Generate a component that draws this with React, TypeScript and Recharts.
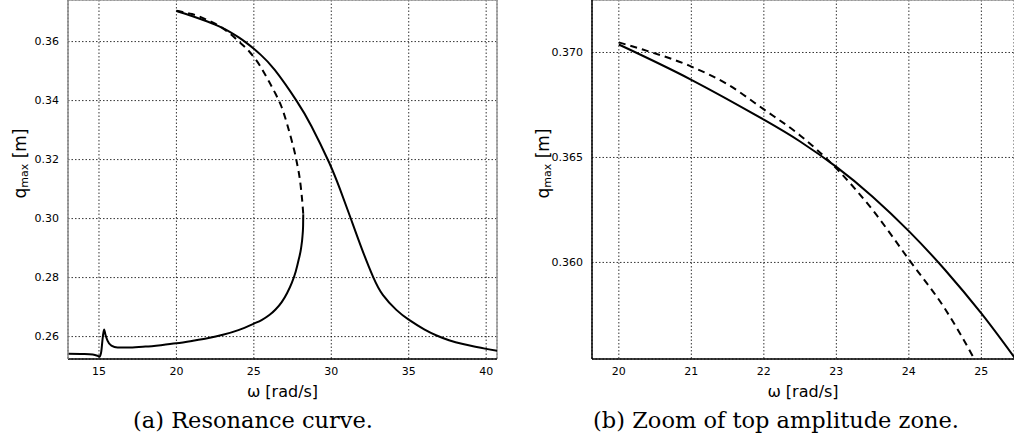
import React from 'react';
import { LineChart, Line, XAxis, YAxis, CartesianGrid, ReferenceLine } from 'recharts';

// stable lower branch (jump-up side)
const lowerOmega = [13.0, 14.0, 14.6, 14.9, 15.05, 15.15, 15.25, 15.33, 15.42, 15.55, 15.8, 16.2, 17.0, 18.0, 19.0, 20.0, 21.0, 22.0, 23.0, 24.0, 25.0, 25.5, 26.0, 26.4, 26.8, 27.15, 27.45, 27.7, 27.9, 28.05, 28.14, 28.18, 28.19];
const lowerQ = [0.2542, 0.2541, 0.2539, 0.2535, 0.2532, 0.255, 0.26, 0.2624, 0.2606, 0.2586, 0.2569, 0.2563, 0.2563, 0.2566, 0.2571, 0.2577, 0.2585, 0.2594, 0.2606, 0.2622, 0.2644, 0.2656, 0.2673, 0.2692, 0.2717, 0.2748, 0.2782, 0.282, 0.2862, 0.29, 0.294, 0.2975, 0.3015];

// stable upper branch
const upperOmega = [20.0, 21.0, 22.0, 22.5, 23.0, 23.5, 24.0, 24.5, 25.0, 25.45, 26.35, 27.75, 28.72, 29.86, 30.55, 31.2, 31.95, 32.7, 33.34, 34.2, 35.0, 36.0, 36.8, 37.6, 38.5, 39.3, 40.0, 40.76];
const upperQ = [0.37038, 0.3687, 0.3668, 0.36576, 0.36455, 0.36313, 0.36149, 0.35964, 0.35757, 0.3555, 0.3504, 0.34, 0.33132, 0.31902, 0.31014, 0.30088, 0.29007, 0.28024, 0.27403, 0.26905, 0.26573, 0.26244, 0.26037, 0.25878, 0.25746, 0.25654, 0.25583, 0.25512];

// unstable branch (dashed)
const unstableOmega = [20.0, 20.33, 21.0, 21.5, 22.0, 22.5, 23.0, 23.5, 24.0, 24.5, 24.88, 25.4, 25.92, 26.4, 26.78, 27.15, 27.43, 27.75, 28.03, 28.14, 28.19];
const unstableQ = [0.37048, 0.37014, 0.36933, 0.36848, 0.36729, 0.36605, 0.36448, 0.3625, 0.36014, 0.35778, 0.35554, 0.3518, 0.347, 0.3423, 0.338, 0.332, 0.3267, 0.3197, 0.3108, 0.305, 0.3015];

const fullOmegaTicks = [15, 20, 25, 30, 35, 40];
const fullQTicks = [0.26, 0.28, 0.3, 0.32, 0.34, 0.36];
const zoomOmegaTicks = [20, 21, 22, 23, 24, 25];
const zoomQTicks = [0.36, 0.365, 0.37];

const toPoints = (w: number[], q: number[]) => w.map((v, i) => ({ w: v, q: q[i] }));

const lower = toPoints(lowerOmega, lowerQ);
const upper = toPoints(upperOmega, upperQ);
const unstable = toPoints(unstableOmega, unstableQ);

const SANS = 'DejaVu Sans, sans-serif';
const tickStyle = { fontSize: 11, fill: '#000', fontFamily: SANS };

const QLabel = (dx: number) => (props: any) => {
  const { viewBox } = props;
  const cx = viewBox.x + dx;
  const cy = viewBox.y + viewBox.height / 2 - 16;
  return (
    <text
      x={cx}
      y={cy}
      transform={`rotate(-90, ${cx}, ${cy})`}
      textAnchor="middle"
      dominantBaseline="central"
      fontFamily={SANS}
      fontSize={17}
      fill="#000"
    >
      <tspan>q</tspan>
      <tspan fontSize={11} dy={4}>max</tspan>
      <tspan dy={-4}> [m]</tspan>
    </text>
  );
};

const caption: React.CSSProperties = {
  position: 'absolute',
  top: 407,
  fontFamily: 'DejaVu Serif, serif',
  fontSize: 22.5,
  color: '#000',
  whiteSpace: 'nowrap',
  transform: 'translateX(-50%)',
};

export default function App() {
  return (
    <div style={{ position: 'absolute', left: 0, top: 0, width: 1014, height: 439, background: '#fff', overflow: 'hidden' }}>
      <div style={{ position: 'absolute', left: 0, top: 0 }}>
        <LineChart width={500} height={400} margin={{ top: 0, right: 3, bottom: 0, left: 0 }}>
          <CartesianGrid stroke="#000" strokeWidth={0.8} strokeDasharray="1.5 2" />
          <XAxis
            dataKey="w"
            type="number"
            domain={[13, 40.7]}
            allowDataOverflow
            ticks={fullOmegaTicks}
            tickLine={false}
            tick={tickStyle}
            tickMargin={2}
            axisLine={{ stroke: '#000', strokeWidth: 1.5 }}
            height={41}
            label={{ value: 'ω [rad/s]', position: 'insideBottom', offset: 3, fontSize: 16, fontFamily: SANS, fill: '#000' }}
          />
          <YAxis
            dataKey="q"
            type="number"
            domain={[0.2524, 0.3741]}
            allowDataOverflow
            ticks={fullQTicks}
            tickFormatter={(v: number) => v.toFixed(2)}
            tickLine={false}
            tick={tickStyle}
            tickMargin={3}
            axisLine={{ stroke: '#888', strokeWidth: 1.5 }}
            width={68}
            label={{ content: QLabel(20) }}
          />
          <ReferenceLine y={0.3741} stroke="#999" strokeWidth={1.5} />
          <ReferenceLine x={40.7} stroke="#999" strokeWidth={1.5} />
          <Line data={lower} dataKey="q" type="monotone" stroke="#000" strokeWidth={2} dot={false} isAnimationActive={false} />
          <Line data={upper} dataKey="q" type="natural" stroke="#000" strokeWidth={2} dot={false} isAnimationActive={false} />
          <Line data={unstable} dataKey="q" type="monotone" stroke="#000" strokeWidth={2} strokeDasharray="7 5" dot={false} isAnimationActive={false} />
        </LineChart>
      </div>

      <div style={{ position: 'absolute', left: 510, top: 0 }}>
        <LineChart width={504} height={400} margin={{ top: 0, right: 0, bottom: 0, left: 0 }}>
          <CartesianGrid stroke="#000" strokeWidth={0.8} strokeDasharray="1.5 2" />
          <XAxis
            dataKey="w"
            type="number"
            domain={[19.63, 25.45]}
            allowDataOverflow
            ticks={zoomOmegaTicks}
            tickLine={false}
            tick={tickStyle}
            tickMargin={2}
            axisLine={{ stroke: '#000', strokeWidth: 1.5 }}
            height={41}
            label={{ value: 'ω [rad/s]', position: 'insideBottom', offset: 3, fontSize: 16, fontFamily: SANS, fill: '#000' }}
          />
          <YAxis
            dataKey="q"
            type="number"
            domain={[0.3554, 0.3725]}
            allowDataOverflow
            ticks={zoomQTicks}
            tickFormatter={(v: number) => v.toFixed(3)}
            tickLine={false}
            tick={tickStyle}
            tickMargin={3}
            axisLine={{ stroke: '#000', strokeWidth: 1.5 }}
            width={82}
            label={{ content: QLabel(33) }}
          />
          <ReferenceLine y={0.3725} stroke="#999" strokeWidth={1.5} />
          <Line data={upper} dataKey="q" type="natural" stroke="#000" strokeWidth={2} dot={false} isAnimationActive={false} />
          <Line data={unstable} dataKey="q" type="monotone" stroke="#000" strokeWidth={2} strokeDasharray="7 5" dot={false} isAnimationActive={false} />
        </LineChart>
      </div>

      <div style={{ ...caption, left: 253 }}>(a) Resonance curve.</div>
      <div style={{ ...caption, left: 776 }}>(b) Zoom of top amplitude zone.</div>
    </div>
  );
}
